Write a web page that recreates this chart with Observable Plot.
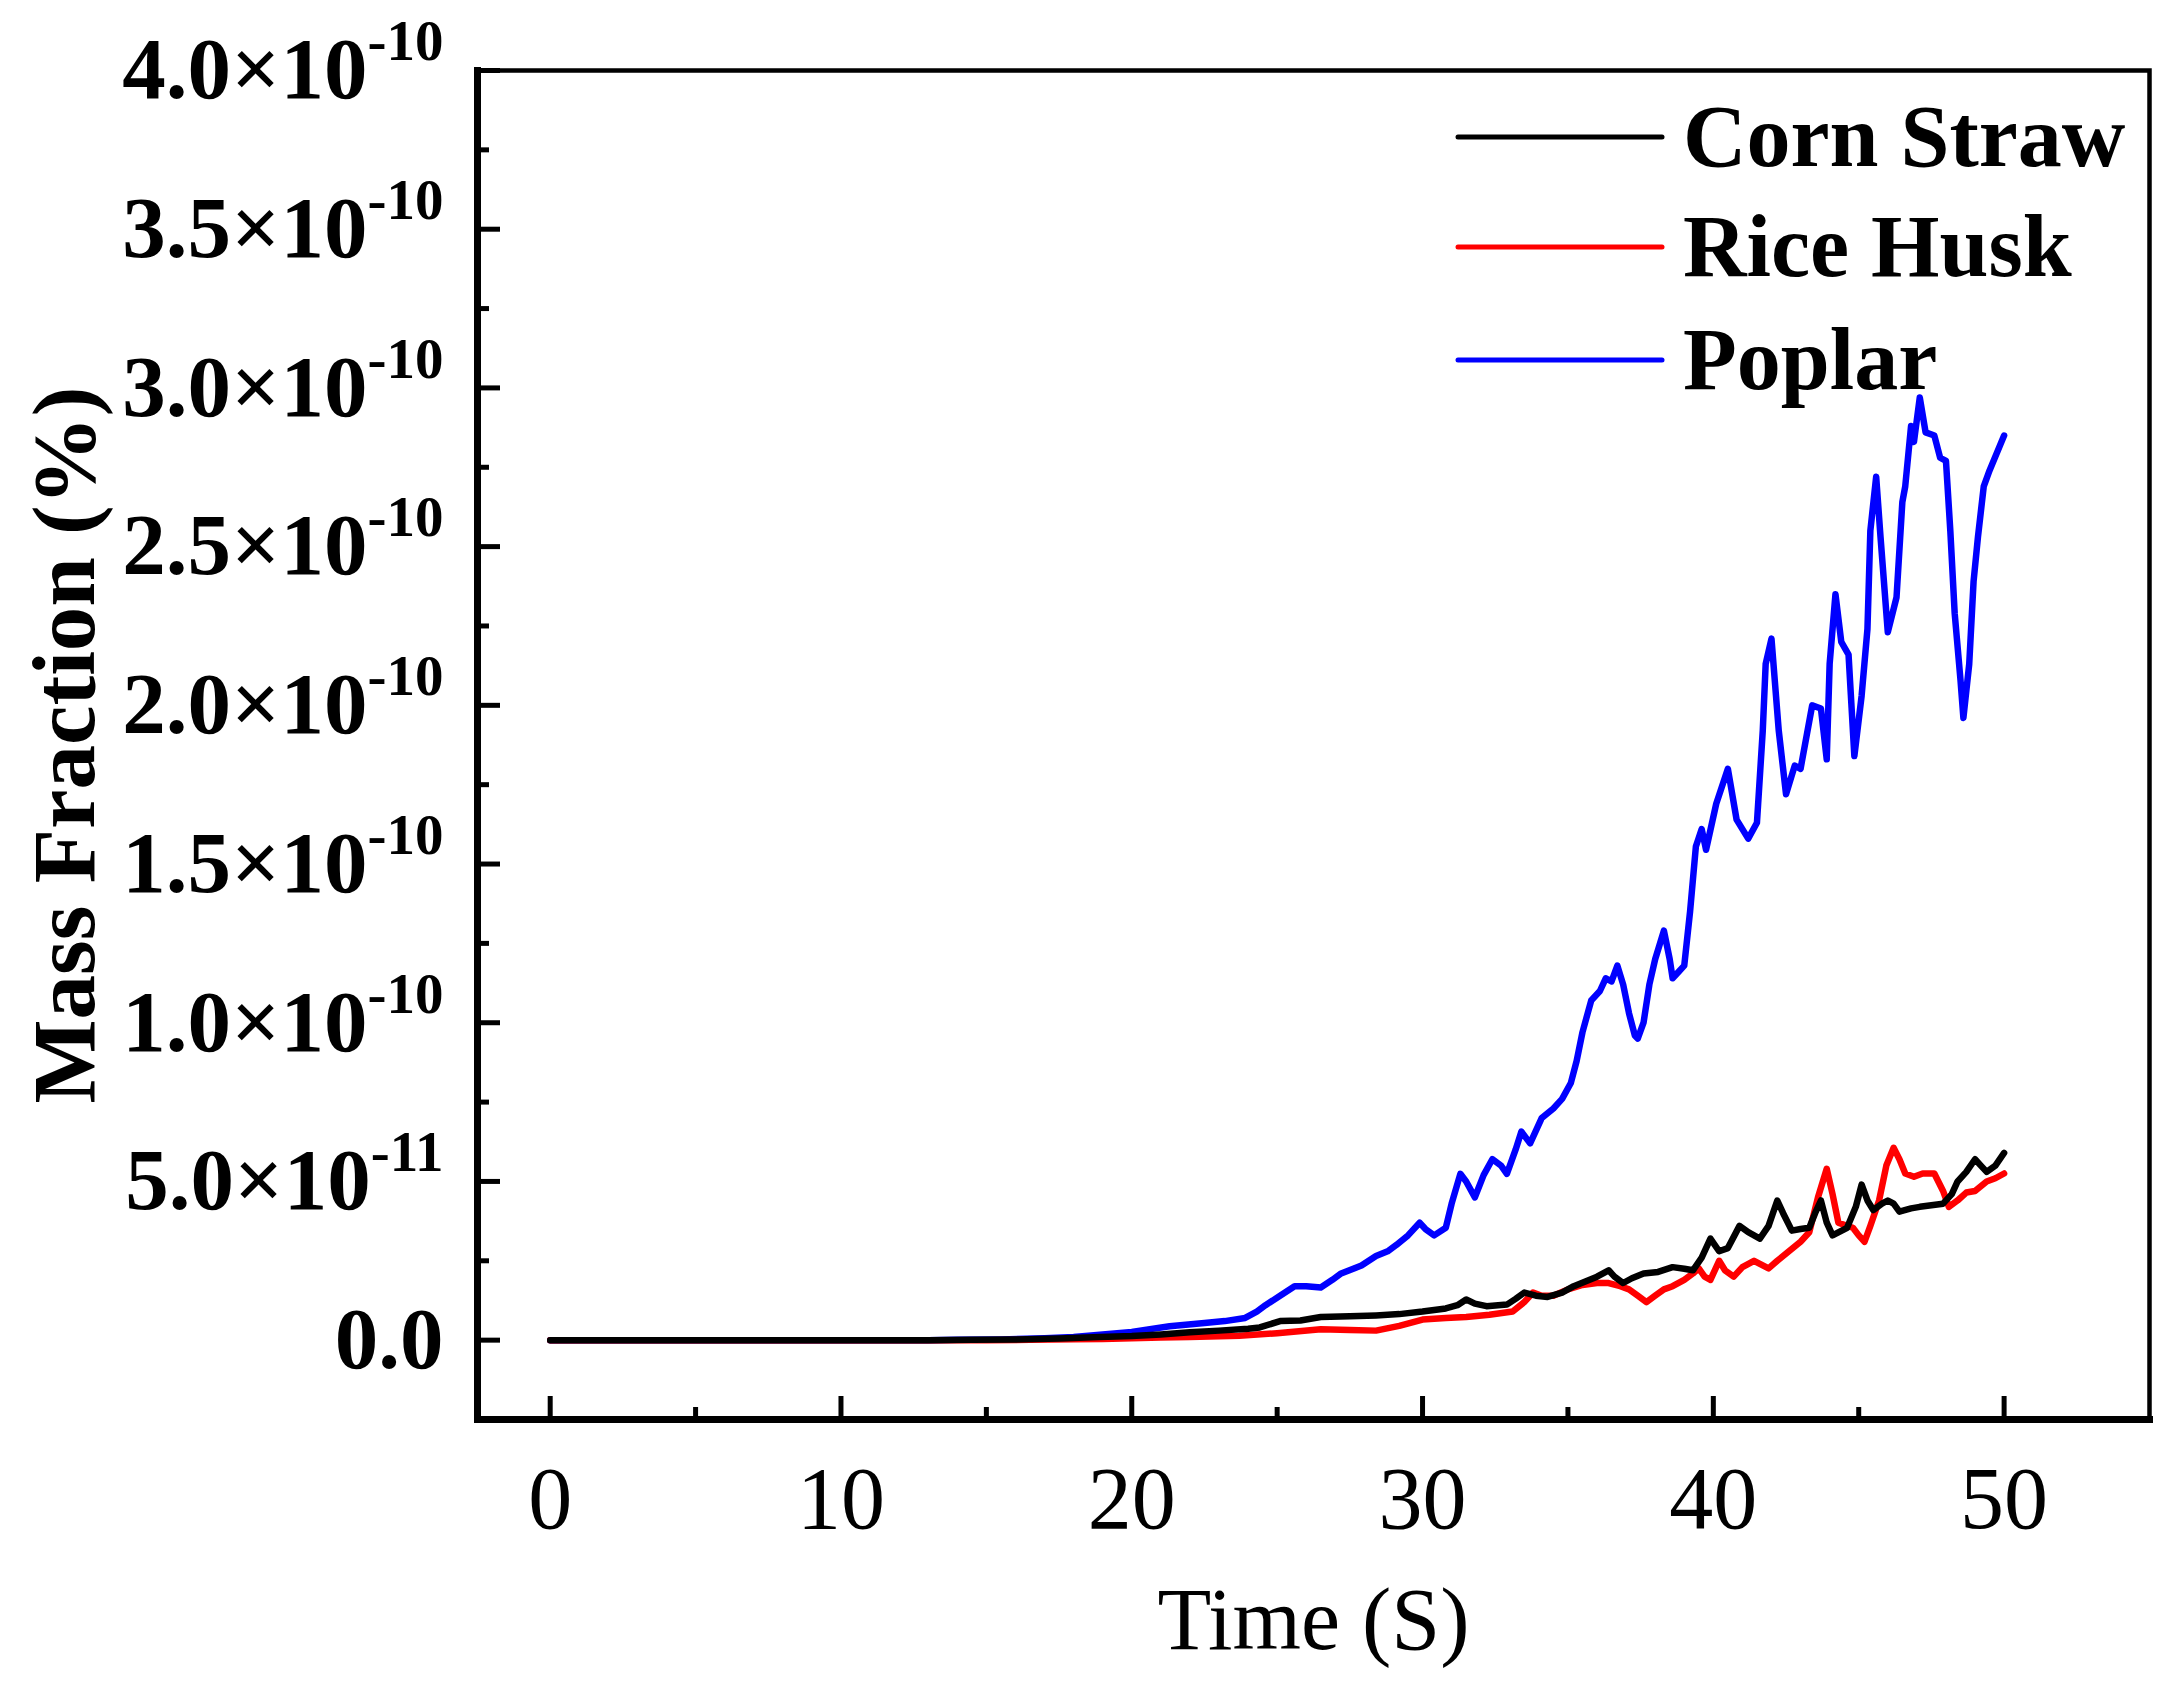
<!DOCTYPE html>
<html>
<head>
<meta charset="utf-8">
<script src="https://cdn.jsdelivr.net/npm/d3@7"></script>
<script src="https://cdn.jsdelivr.net/npm/@observablehq/plot@0.6"></script>
<style>
  html, body { margin: 0; padding: 0; background: #fff; }
  svg { display: block; }
</style>
</head>
<body>
<script>
// ---- Data (values in units of 1e-10 %) ----
const seriesNames = ["Corn Straw", "Rice Husk", "Poplar"];
const seriesColors = ["#000000", "#ff0000", "#0000ff"];

const cornTime = [0,5,10,13,14.5,16,17.5,18.9,20,21,22,23,24,24.4,25.1,25.8,26.5,27.5,28.4,29.2,30,30.8,31.2,31.5,31.8,32.2,32.9,33.2,33.5,33.9,34.3,34.8,35.2,35.6,36.0,36.4,36.6,36.9,37.2,37.6,38.1,38.6,39.0,39.3,39.6,39.9,40.2,40.5,40.9,41.2,41.6,41.9,42.2,42.4,42.7,43.0,43.3,43.5,43.7,43.9,44.1,44.6,44.9,45.1,45.3,45.5,45.8,46.0,46.2,46.4,46.8,47.1,47.5,47.9,48.2,48.4,48.7,49.0,49.2,49.4,49.7,50.0];
const cornValue = [0,0,0,0,0.001,0.002,0.005,0.01,0.013,0.018,0.025,0.03,0.036,0.04,0.06,0.062,0.073,0.075,0.078,0.082,0.09,0.10,0.11,0.128,0.115,0.107,0.112,0.13,0.15,0.14,0.136,0.15,0.17,0.185,0.20,0.22,0.20,0.18,0.195,0.21,0.215,0.23,0.225,0.22,0.26,0.32,0.28,0.29,0.36,0.34,0.32,0.36,0.44,0.40,0.345,0.35,0.354,0.40,0.44,0.37,0.33,0.354,0.42,0.49,0.44,0.41,0.43,0.44,0.43,0.405,0.415,0.42,0.425,0.43,0.46,0.50,0.53,0.57,0.55,0.53,0.55,0.59];

const riceTime = [0,10,15,16.5,18,19,20,21,22,23.7,25,26.5,27.5,28.4,29.2,30,30.8,31.5,32.3,33.1,33.5,33.8,34.1,34.5,35.0,35.5,36.0,36.4,36.8,37.1,37.4,37.7,38.0,38.3,38.6,39.0,39.3,39.5,39.7,39.9,40.2,40.4,40.7,41.0,41.4,41.9,42.2,42.6,43.0,43.3,43.6,43.9,44.1,44.3,44.6,44.8,45.0,45.2,45.4,45.7,45.95,46.2,46.4,46.6,46.9,47.2,47.6,47.9,48.1,48.4,48.7,49.0,49.4,49.7,50.0];
const riceValue = [0,0,0,0.001,0.003,0.004,0.006,0.008,0.01,0.014,0.022,0.034,0.032,0.03,0.045,0.065,0.07,0.073,0.08,0.09,0.12,0.15,0.14,0.14,0.16,0.174,0.18,0.18,0.17,0.16,0.14,0.12,0.14,0.16,0.17,0.19,0.21,0.226,0.20,0.19,0.25,0.22,0.20,0.23,0.25,0.226,0.25,0.28,0.31,0.34,0.45,0.54,0.46,0.37,0.36,0.354,0.33,0.31,0.36,0.44,0.55,0.606,0.57,0.525,0.515,0.525,0.525,0.47,0.42,0.44,0.465,0.47,0.50,0.51,0.525];

const poplarTime = [0,10,13,14,15.5,17,18,18.9,20,21.3,22.5,23.2,23.9,24.3,24.6,25.1,25.6,26.0,26.5,26.9,27.2,27.9,28.4,28.8,29.1,29.5,29.9,30.1,30.4,30.8,31.0,31.3,31.5,31.8,32.1,32.4,32.7,32.9,33.2,33.4,33.7,34.1,34.5,34.8,35.1,35.3,35.5,35.8,36.1,36.3,36.5,36.7,36.9,37.1,37.3,37.4,37.6,37.8,38.0,38.3,38.5,38.6,38.8,39.0,39.2,39.4,39.6,39.75,40.1,40.5,40.8,41.2,41.5,41.7,41.8,42.0,42.25,42.5,42.8,43.0,43.4,43.7,43.9,44.0,44.2,44.4,44.65,44.85,45.1,45.3,45.4,45.6,45.75,46.0,46.3,46.5,46.6,46.8,46.9,47.1,47.3,47.6,47.8,48.0,48.15,48.3,48.5,48.6,48.8,48.95,49.1,49.3,49.5,50.0];
const poplarValue = [0,0,0,0.001,0.002,0.006,0.01,0.017,0.026,0.044,0.054,0.06,0.07,0.09,0.11,0.14,0.17,0.17,0.166,0.19,0.21,0.235,0.265,0.28,0.30,0.33,0.37,0.35,0.33,0.354,0.43,0.524,0.50,0.45,0.52,0.57,0.55,0.524,0.60,0.657,0.62,0.70,0.73,0.76,0.81,0.88,0.97,1.07,1.10,1.14,1.13,1.18,1.12,1.03,0.96,0.95,1.00,1.12,1.20,1.29,1.20,1.14,1.16,1.18,1.35,1.555,1.61,1.545,1.69,1.80,1.64,1.58,1.63,1.92,2.13,2.21,1.92,1.72,1.81,1.80,2.00,1.99,1.83,2.13,2.35,2.20,2.16,1.84,2.03,2.24,2.55,2.72,2.53,2.23,2.34,2.64,2.69,2.88,2.83,2.97,2.86,2.85,2.78,2.77,2.55,2.29,2.08,1.96,2.13,2.39,2.53,2.69,2.74,2.85];

const xMajorTicks = [0, 10, 20, 30, 40, 50];
const xMinorTicks = [5, 15, 25, 35, 45];
const yMajorTicks = [0, 0.5e-10, 1.0e-10, 1.5e-10, 2.0e-10, 2.5e-10, 3.0e-10, 3.5e-10, 4.0e-10];
const yMinorTicks = [0.25e-10, 0.75e-10, 1.25e-10, 1.75e-10, 2.25e-10, 2.75e-10, 3.25e-10, 3.75e-10];
const yTickLabels = ["0.0", "5.0×10^-11", "1.0×10^-10", "1.5×10^-10", "2.0×10^-10", "2.5×10^-10", "3.0×10^-10", "3.5×10^-10", "4.0×10^-10"];

// ---- Build table ----
const rows = [];
const drawOrder = [
  ["Poplar", poplarTime, poplarValue],
  ["Rice Husk", riceTime, riceValue],
  ["Corn Straw", cornTime, cornValue]
];
for (const [name, ts, vs] of drawOrder) {
  ts.forEach((t, i) => rows.push({series: name, t, v: vs[i] * 1e-10}));
}

// ---- Layout ----
const W = 2175, H = 1698;
const mL = 477, mR = 26, mT = 70, mB = 279;
const plotW = W - mL - mR, plotH = H - mT - mB;
const serif = "'Liberation Serif', 'Times New Roman', serif";

const chart = Plot.plot({
  width: W,
  height: H,
  marginLeft: mL, marginRight: mR, marginTop: mT, marginBottom: mB,
  style: {fontFamily: serif, background: "#fff", color: "#000"},
  x: {domain: [-2.5, 55]},
  y: {domain: [-0.25e-10, 4e-10]},
  color: {domain: seriesNames, range: seriesColors},
  marks: [
    Plot.line(rows, {x: "t", y: "v", z: "series", stroke: "series", strokeWidth: 6.5, strokeLinejoin: "round", strokeLinecap: "round"}),
    Plot.tickY(yMajorTicks, {y: d => d, insetRight: plotW - 23, strokeWidth: 5, stroke: "#000"}),
    Plot.tickY(yMinorTicks, {y: d => d, insetRight: plotW - 12, strokeWidth: 5, stroke: "#000"}),
    Plot.tickX(xMajorTicks, {x: d => d, insetTop: plotH - 23, strokeWidth: 5, stroke: "#000"}),
    Plot.tickX(xMinorTicks, {x: d => d, insetTop: plotH - 12, strokeWidth: 5, stroke: "#000"}),
    Plot.frame({stroke: "#000", strokeWidth: 4.5}),
    Plot.frame({anchor: "left", stroke: "#000", strokeWidth: 7}),
    Plot.frame({anchor: "bottom", stroke: "#000", strokeWidth: 7}),
    Plot.axisY(yMajorTicks, {
      tickSize: 0, tickPadding: 34, fontSize: 87, fontWeight: "bold",
      tickFormat: d => yTickLabels[Math.round(d / 0.5e-10)], label: null
    }),
    Plot.axisY({ticks: [], tickSize: 0, label: "Mass Fraction (%)", labelAnchor: "center", labelArrow: "none", labelOffset: 447, fontSize: 89, fontWeight: "bold"}),
    Plot.axisX(xMajorTicks, {tickSize: 0, tickPadding: 46, fontSize: 88, label: null}),
    Plot.axisX({ticks: [], tickSize: 0, label: "Time (S)", labelAnchor: "center", labelArrow: "none", labelOffset: 229, fontSize: 88})
  ]
});

// superscripts in y tick labels
chart.querySelectorAll('g[aria-label="y-axis tick label"] text').forEach(t => {
  const s = t.textContent;
  const m = s.match(/^(.*)\^(.+)$/);
  if (!m) return;
  t.textContent = "";
  const ns = "http://www.w3.org/2000/svg";
  const a = document.createElementNS(ns, "tspan");
  a.textContent = m[1];
  const b = document.createElementNS(ns, "tspan");
  b.textContent = m[2];
  b.setAttribute("font-size", "57");
  b.setAttribute("dy", "-38");
  t.appendChild(a); t.appendChild(b);
});

// legend inside the frame
const legend = d3.select(chart).append("g").attr("aria-label", "legend").attr("text-anchor", "start");
const rowY = [137, 247, 360];
seriesNames.forEach((name, i) => {
  legend.append("line")
    .attr("x1", 1458).attr("x2", 1662)
    .attr("y1", rowY[i]).attr("y2", rowY[i])
    .attr("stroke", seriesColors[i]).attr("stroke-width", 5).attr("stroke-linecap", "round");
  legend.append("text")
    .attr("x", 1683).attr("y", rowY[i] + 29)
    .attr("text-anchor", "start")
    .attr("font-family", serif).attr("font-weight", "bold").attr("font-size", 88)
    .attr("fill", "#000")
    .text(name);
});

document.body.appendChild(chart);
</script>
</body>
</html>
